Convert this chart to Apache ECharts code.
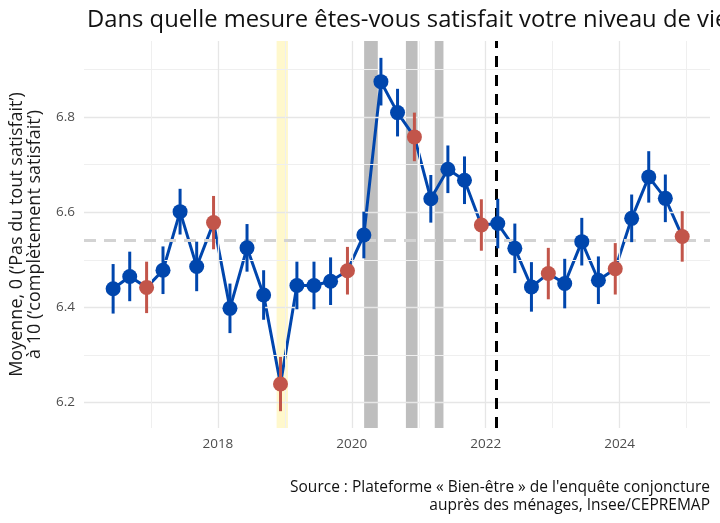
<!DOCTYPE html>
<html><head><meta charset="utf-8">
<script src="https://cdn.jsdelivr.net/npm/echarts@6/dist/echarts.min.js"></script>
<style>html,body{margin:0;padding:0;background:#fff}#c{width:720px;height:523px}</style>
</head><body><div id="c"></div>
<script>
// ---- data ----
const quarters = ['2016T2','2016T3','2016T4',
  '2017T1','2017T2','2017T3','2017T4',
  '2018T1','2018T2','2018T3','2018T4',
  '2019T1','2019T2','2019T3','2019T4',
  '2020T1','2020T2','2020T3','2020T4',
  '2021T1','2021T2','2021T3','2021T4',
  '2022T1','2022T2','2022T3','2022T4',
  '2023T1','2023T2','2023T3','2023T4',
  '2024T1','2024T2','2024T3','2024T4'];
const values = [6.439,6.465,6.442,
  6.478,6.601,6.486,6.578,
  6.398,6.525,6.426,6.239,
  6.446,6.446,6.455,6.477,
  6.552,6.874,6.809,6.758,
  6.628,6.690,6.667,6.573,
  6.576,6.524,6.443,6.471,
  6.450,6.538,6.457,6.481,
  6.587,6.674,6.629,6.549];
const ciHalf = [0.052,0.052,0.054,
  0.050,0.048,0.052,0.056,
  0.052,0.050,0.052,0.057,
  0.050,0.050,0.050,0.050,
  0.049,0.050,0.050,0.051,
  0.050,0.050,0.050,0.054,
  0.052,0.052,0.052,0.054,
  0.052,0.050,0.050,0.054,
  0.050,0.054,0.050,0.053];
const quarterPos = {T1:0.18, T2:0.435, T3:0.683, T4:0.935};
const meanValue = 6.538;
const warStart = 2022.146;
const yellowPeriods = [[2018.877, 2019.046]];
const lockdowns = [[2020.184, 2020.388], [2020.808, 2020.982], [2021.239, 2021.369]];
const yMajor = [6.2, 6.4, 6.6, 6.8];
const yMinor = [6.3, 6.5, 6.7, 6.9];
const xMajor = [2018, 2020, 2022, 2024];
const xMinor = [2017, 2019, 2021, 2023, 2025];
const xLabels = ['2018', '2020', '2022', '2024'];
const yLabels = ['6.2', '6.4', '6.6', '6.8'];
const titleText = 'Dans quelle mesure êtes-vous satisfait votre niveau de vie';
const yName = ['Moyenne, 0 (‘Pas du tout satisfait’)', 'à 10 (‘complètement satisfait’)'];
const sourceLines = ['Source : Plateforme « Bien-être » de l\'enquête conjoncture', 'auprès des ménages, Insee/CEPREMAP'];

const BLUE = '#0046ad', RED = '#c2554a';
const FONT = 'Open Sans';

const tOf = q => parseInt(q.slice(0, 4)) + quarterPos[q.slice(4)];
const isQ4 = q => q.slice(4) === 'T4';
const pts = quarters.map((q, i) => [tOf(q), values[i]]);
const bars = quarters.map((q, i) => [tOf(q), values[i] - ciHalf[i], values[i] + ciHalf[i], isQ4(q) ? 1 : 0]);

const chart = echarts.init(document.getElementById('c'), null, {renderer: 'canvas'});
const noSym = ['none', 'none'];
chart.setOption({
  animation: false,
  backgroundColor: '#fff',
  textStyle: {fontFamily: FONT},
  title: {
    text: titleText,
    left: 82, top: 3,
    textStyle: {fontFamily: FONT, fontSize: 23.8, fontWeight: 'normal', color: '#111'}
  },
  grid: {left: 81, right: 10, top: 41, bottom: 95},
  xAxis: {
    type: 'value', min: 2016, max: 2025.35, minInterval: 2, maxInterval: 2,
    axisLine: {show: false}, axisTick: {show: false}, splitLine: {show: false},
    axisLabel: {
      margin: 9, color: '#4d4d4d', fontSize: 13.5, fontFamily: FONT,
      formatter: v => { const s = String(Math.round(v)); return (Math.abs(v - Math.round(v)) < 1e-6 && xLabels.includes(s)) ? s : ''; }
    }
  },
  yAxis: {
    type: 'value', min: 6.1467, max: 6.9594, minInterval: 0.2, maxInterval: 0.2,
    axisLine: {show: false}, axisTick: {show: false}, splitLine: {show: false},
    axisLabel: {
      margin: 9, color: '#4d4d4d', fontSize: 13.5, fontFamily: FONT,
      formatter: v => { const s = v.toFixed(1); return (Math.abs(v - parseFloat(s)) < 1e-6 && yLabels.includes(s)) ? s : ''; }
    },
    name: yName.join('\n'),
    nameLocation: 'middle', nameRotate: 90, nameGap: 40,
    nameTextStyle: {fontFamily: FONT, fontSize: 18, lineHeight: 18, color: '#1a1a1a', align: 'center'}
  },
  graphic: [
    {type: 'text', right: 10, top: 480,
     style: {text: sourceLines[0], fontFamily: FONT, fontSize: 15.5, fill: '#111'}},
    {type: 'text', right: 10, top: 498,
     style: {text: sourceLines[1], fontFamily: FONT, fontSize: 15.5, fill: '#111'}}
  ],
  series: [
    { // gridlines
      type: 'line', data: [], z: 1, silent: true, showSymbol: false,
      markLine: {
        silent: true, symbol: noSym, label: {show: false}, animation: false,
        data: [
          ...yMinor.map(v => ({yAxis: v, lineStyle: {color: '#efefef', width: 1, type: 'solid'}})),
          ...yMajor.map(v => ({yAxis: v, lineStyle: {color: '#e6e6e6', width: 1.3, type: 'solid'}})),
          ...xMinor.map(v => ({xAxis: v, lineStyle: {color: '#efefef', width: 1, type: 'solid'}})),
          ...xMajor.map(v => ({xAxis: v, lineStyle: {color: '#e6e6e6', width: 1.3, type: 'solid'}}))
        ]
      }
    },
    { // bands
      type: 'line', data: [], z: 2, silent: true, showSymbol: false,
      markArea: {
        silent: true, label: {show: false},
        data: [
          ...yellowPeriods.map(p => [{xAxis: p[0], itemStyle: {color: '#fff8cc', opacity: 1}}, {xAxis: p[1]}]),
          ...lockdowns.map(p => [{xAxis: p[0], itemStyle: {color: '#bebebe', opacity: 1}}, {xAxis: p[1]}])
        ]
      }
    },
    { // reference lines
      type: 'line', data: [], z: 3, silent: true, showSymbol: false,
      markLine: {
        silent: true, symbol: noSym, label: {show: false},
        data: [
          {yAxis: meanValue, lineStyle: {color: '#d3d3d3', width: 3, type: [12, 8]}},
          {xAxis: warStart, lineStyle: {color: '#000', width: 3, type: [11, 8]}}
        ]
      }
    },
    {
      type: 'line', data: pts, z: 4, showSymbol: false, silent: true,
      lineStyle: {color: BLUE, width: 3}
    },
    {
      type: 'custom', data: bars, z: 5, silent: true,
      encode: {x: 0, y: [1, 2]},
      renderItem: (params, api) => {
        const a = api.coord([api.value(0), api.value(1)]);
        const b = api.coord([api.value(0), api.value(2)]);
        return {type: 'line', shape: {x1: a[0], y1: a[1], x2: b[0], y2: b[1]},
          style: {stroke: api.value(3) ? RED : BLUE, lineWidth: 3}};
      }
    },
    {
      type: 'scatter', z: 6, silent: true, symbolSize: 15,
      itemStyle: {color: BLUE, opacity: 1},
      data: pts.filter((p, i) => !isQ4(quarters[i]))
    },
    {
      type: 'scatter', z: 6, silent: true, symbolSize: 15,
      itemStyle: {color: RED, opacity: 1},
      data: pts.filter((p, i) => isQ4(quarters[i]))
    }
  ]
});
</script></body></html>
